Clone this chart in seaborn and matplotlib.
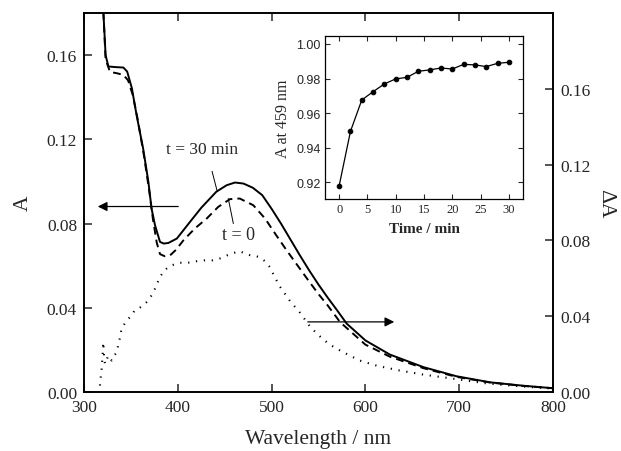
import matplotlib
matplotlib.use("Agg")
import matplotlib.pyplot as plt
import seaborn as sns

# main spectra: absorbance (left axis)
wl_30 = [318, 320.6, 323, 326, 334, 342, 346, 351, 356, 363, 368.6, 372, 375.7, 381, 385, 390,
         399, 413, 425, 441, 452, 461, 470, 480, 490, 500, 510, 520, 530, 540, 550, 560, 570,
         580, 600, 626, 662, 697, 733, 768, 800]
a_30 = [0.195, 0.1808, 0.160, 0.1546, 0.1543, 0.1541, 0.1522, 0.1443, 0.1316, 0.1157, 0.0999,
        0.0871, 0.0792, 0.0713, 0.0705, 0.0708, 0.0729, 0.0808, 0.0875, 0.0951, 0.0982, 0.0995,
        0.0990, 0.0970, 0.0935, 0.0870, 0.0800, 0.0725, 0.0650, 0.0578, 0.0510, 0.0447, 0.0387,
        0.0325, 0.0245, 0.0178, 0.0118, 0.0075, 0.0046, 0.0030, 0.0018]

wl_0 = [318, 320.6, 323, 327.7, 335, 342, 347, 352, 357, 364, 370, 373.5, 377.5, 381, 386, 391.7,
        398, 405.9, 418, 430.8, 443, 455.6, 466, 480.5, 493, 505, 516, 527, 540, 550, 560, 573,
        600, 626, 662, 697, 733, 768, 800]
a_0 = [0.195, 0.1808, 0.158, 0.152, 0.1514, 0.1506, 0.148, 0.141, 0.130, 0.112, 0.094, 0.082,
       0.071, 0.0655, 0.0645, 0.0649, 0.0675, 0.072, 0.0776, 0.0824, 0.0879, 0.0916, 0.0919,
       0.0887, 0.0824, 0.0744, 0.0673, 0.0605, 0.0525, 0.0465, 0.041, 0.0332, 0.0225, 0.0168,
       0.0113, 0.0072, 0.0045, 0.0029, 0.0018]

# difference spectrum (right axis)
wl_d = [317, 317.8, 318.8, 320, 320.5, 321.5, 322.4, 324, 326, 328, 329.5, 332, 334.8, 337, 338,
        340, 342, 345.5, 350, 354, 358, 363, 368, 372, 375.7, 381, 386, 391.7, 402, 413, 420,
        430.8, 437, 445, 452, 457.5, 466, 472, 477, 483, 487.6, 493, 498, 503, 509, 519.6, 530,
        541, 550, 558.7, 567, 576.4, 594, 612, 637, 661.7, 697, 730, 765, 800]
d_a = [0.0034, 0.0078, 0.0122, 0.021, 0.0263, 0.018, 0.0148, 0.017, 0.0192, 0.0175, 0.0166, 0.019,
       0.021, 0.026, 0.028, 0.0334, 0.035, 0.0378, 0.040, 0.043, 0.044, 0.0457, 0.048, 0.051,
       0.0546, 0.0608, 0.0643, 0.0666, 0.0682, 0.0683, 0.069, 0.0696, 0.0695, 0.0705, 0.072,
       0.0731, 0.0743, 0.073, 0.0722, 0.0718, 0.071, 0.069, 0.066, 0.061, 0.0555, 0.048, 0.042,
       0.0345, 0.030, 0.0263, 0.0235, 0.021, 0.0166, 0.0139, 0.0113, 0.0092, 0.0068, 0.0045,
       0.003, 0.0018]

# inset: A at 459 nm vs time
t_min = [0, 2, 4, 6, 8, 10, 12, 14, 16, 18, 20, 22, 24, 26, 28, 30]
a_459 = [0.918, 0.9495, 0.9676, 0.9724, 0.9769, 0.9798, 0.9807, 0.9842, 0.985, 0.9861, 0.9855,
         0.9882, 0.9879, 0.9869, 0.9888, 0.9894]

x_ticks = [300, 400, 500, 600, 700, 800]
a_ticks = [0.00, 0.04, 0.08, 0.12, 0.16]
t_ticks = [0, 5, 10, 15, 20, 25, 30]
inset_yticks = [0.92, 0.94, 0.96, 0.98, 1.00]

sns.set_style("ticks")
plt.rcParams['font.family'] = ['Liberation Serif', 'DejaVu Serif']

fig = plt.figure(figsize=(6.21, 4.52), dpi=100)
ax = fig.add_axes([0.1353, 0.1305, 0.7552, 0.8385])
ax2 = ax.twinx()

sns.lineplot(x=wl_30, y=a_30, ax=ax, color="black", lw=1.4, estimator=None, sort=False)
sns.lineplot(x=wl_0, y=a_0, ax=ax, color="black", lw=1.4, estimator=None, sort=False,
             linestyle=(0, (4, 2.6)))
sns.lineplot(x=wl_d, y=d_a, ax=ax2, color="black", lw=1.5, estimator=None, sort=False,
             linestyle=(0, (0.6, 3.2)))

ax.set_xlim(300, 800)
ax.set_ylim(0, 0.18)
ax2.set_ylim(0, 0.20)
ax.set_xticks(x_ticks)
ax.set_yticks(a_ticks)
ax2.set_yticks(a_ticks)
ax.set_yticklabels([f"{v:.2f}" for v in a_ticks])
ax2.set_yticklabels([f"{v:.2f}" for v in a_ticks])

ax.tick_params(axis="x", direction="in", top=True, length=6, width=1.1, labelsize=12.5, pad=5)
ax.tick_params(axis="y", direction="in", length=6, width=1.1, labelsize=12.5, pad=5)
ax2.tick_params(axis="y", direction="in", length=6, width=1.1, labelsize=12.5, pad=5)
for a in (ax, ax2):
    for s in a.spines.values():
        s.set_linewidth(1.2)
        s.set_color("black")
        s.set_visible(True)

ax.set_xlabel("Wavelength / nm", fontsize=15.5, labelpad=10)
ax.set_ylabel("A", fontsize=15.5, labelpad=10)
ax2.set_ylabel("ΔA", fontsize=15.5, rotation=-90, labelpad=18)

# arrows pointing to the axes
ax.annotate("", xy=(311.7, 0.0881), xytext=(403.4, 0.0881),
            arrowprops=dict(arrowstyle="-|>", color="black", lw=0.9, mutation_scale=14))
ax.annotate("", xy=(633.7, 0.0333), xytext=(535.6, 0.0333),
            arrowprops=dict(arrowstyle="-|>", color="black", lw=0.9, mutation_scale=14))

# curve labels
ax.text(425.8, 0.1152, "t = 30 min", fontsize=12.5, ha="center", va="center")
ax.plot([436.5, 441.8], [0.1048, 0.0957], color="black", lw=0.7)
ax.text(464.7, 0.0748, "t = 0", fontsize=13, ha="center", va="center")
ax.plot([453.8, 459.2], [0.0919, 0.0800], color="black", lw=0.7)

# inset
axi = fig.add_axes([0.5234, 0.5575, 0.3188, 0.3606])
sns.lineplot(x=t_min, y=a_459, ax=axi, color="black", lw=0.9, marker="o", markersize=3.3,
             markeredgecolor="black", estimator=None)
axi.set_xlim(-2.5, 32.5)
axi.set_ylim(0.9103, 1.0046)
axi.set_xticks(t_ticks)
axi.set_yticks(inset_yticks)
axi.set_yticklabels([f"{v:.2f}" for v in inset_yticks], family="Liberation Sans", fontsize=8)
axi.tick_params(axis="both", direction="in", top=True, right=True, length=3.5, width=0.8,
                labelsize=9, pad=3)
for s in axi.spines.values():
    s.set_linewidth(0.9)
    s.set_color("black")
axi.set_xlabel("Time / min", fontsize=11, fontweight="bold", labelpad=5)
axi.set_ylabel("A at 459 nm", fontsize=11.5, labelpad=4)
axi.set_facecolor("white")

fig.savefig("out.png", dpi=100)
